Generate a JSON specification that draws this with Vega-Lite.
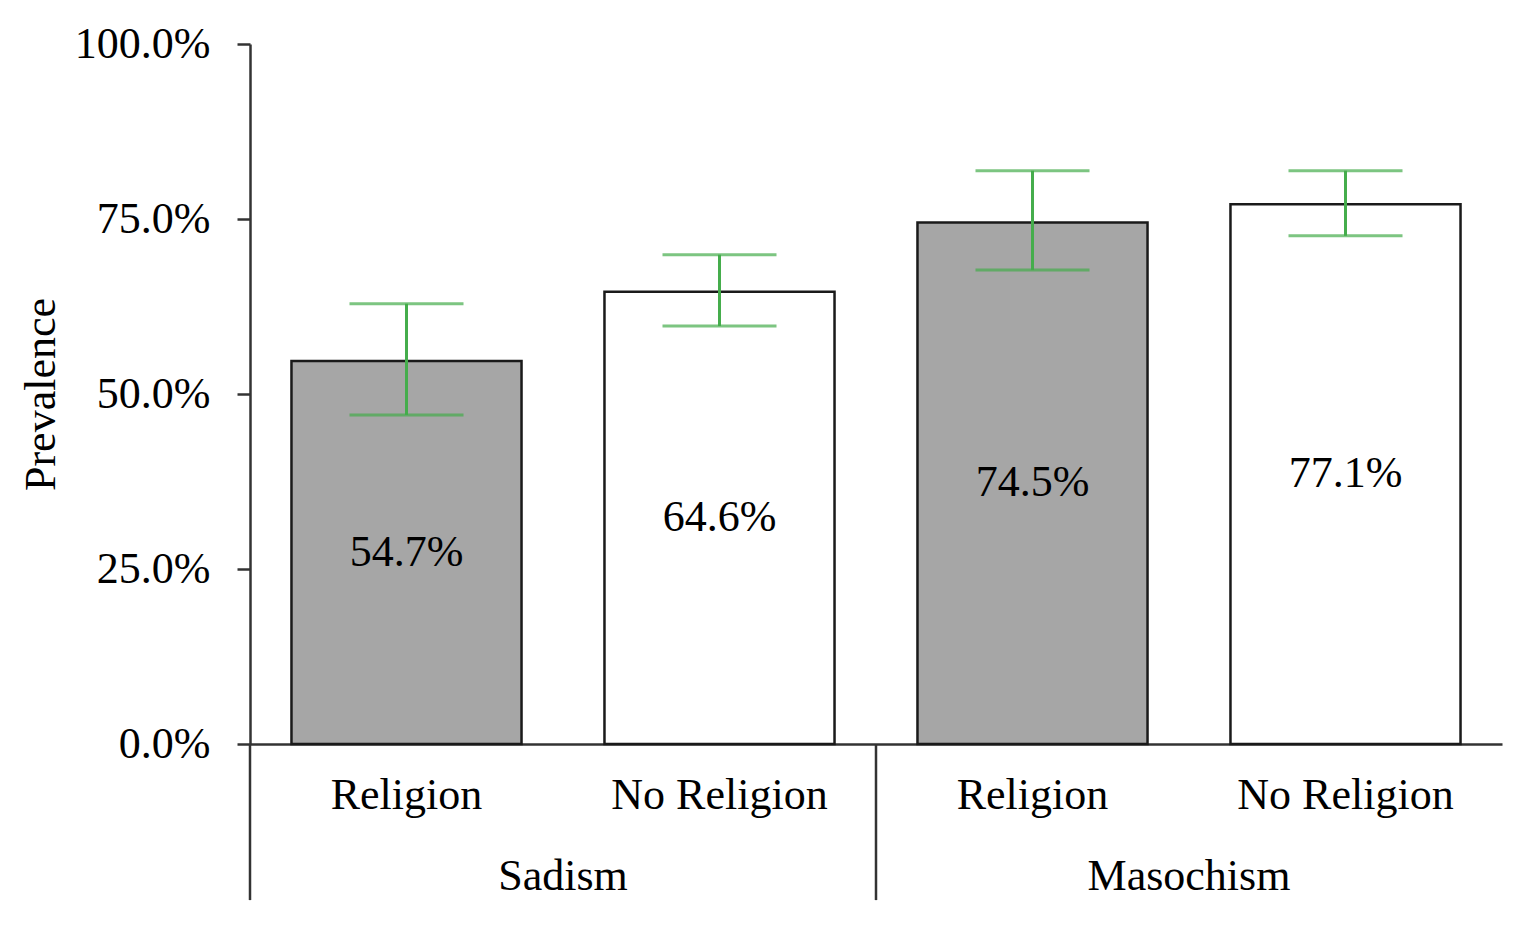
{
  "$schema": "https://vega.github.io/schema/vega-lite/v6.json",
  "width": 1252,
  "height": 700,
  "autosize": "none",
  "padding": {"left": 250, "top": 44, "right": 22, "bottom": 191},
  "background": "white",
  "data": {
    "values": [
      {"group": "Sadism", "religion": "Religion", "key": "Sadism|Religion", "value": 0.547, "lo": 0.470, "hi": 0.629},
      {"group": "Sadism", "religion": "No Religion", "key": "Sadism|No Religion", "value": 0.646, "lo": 0.597, "hi": 0.699},
      {"group": "Masochism", "religion": "Religion", "key": "Masochism|Religion", "value": 0.745, "lo": 0.677, "hi": 0.819},
      {"group": "Masochism", "religion": "No Religion", "key": "Masochism|No Religion", "value": 0.771, "lo": 0.726, "hi": 0.819}
    ]
  },
  "encoding": {
    "x": {
      "field": "key",
      "type": "nominal",
      "scale": {
        "domain": ["Sadism|Religion", "Sadism|No Religion", "Masochism|Religion", "Masochism|No Religion"],
        "paddingInner": 0,
        "paddingOuter": 0
      },
      "axis": {
        "title": null,
        "labelExpr": "split(datum.label, '|')[1]",
        "labelAngle": 0,
        "labelPadding": 29,
        "labelLimit": 0,
        "ticks": false,
        "domainColor": "#333333",
        "domainWidth": 2.5
      }
    }
  },
  "layer": [
    {
      "mark": {"type": "bar", "width": {"band": 0.735}, "stroke": "#1a1a1a", "strokeWidth": 2.5},
      "encoding": {
        "y": {
          "field": "value",
          "type": "quantitative",
          "scale": {"domain": [0, 1]},
          "axis": {
            "title": "Prevalence",
            "format": ".1%",
            "values": [0, 0.25, 0.5, 0.75, 1],
            "tickSize": 13,
            "tickWidth": 2.5,
            "tickColor": "#333333",
            "domainColor": "#333333",
            "domainWidth": 2.5,
            "labelPadding": 27,
            "titlePadding": 11,
            "grid": false
          }
        },
        "fill": {
          "field": "religion",
          "type": "nominal",
          "scale": {"domain": ["Religion", "No Religion"], "range": ["#A6A6A6", "#FFFFFF"]},
          "legend": null
        }
      }
    },
    {
      "mark": {"type": "rule", "color": "#45AD4C", "strokeWidth": 3},
      "encoding": {
        "y": {"field": "lo", "type": "quantitative"},
        "y2": {"field": "hi"}
      }
    },
    {
      "mark": {"type": "tick", "color": "#45AD4C", "size": 114, "thickness": 3, "orient": "horizontal"},
      "encoding": {"y": {"field": "lo", "type": "quantitative"}}
    },
    {
      "mark": {"type": "tick", "color": "#45AD4C", "size": 114, "thickness": 3, "orient": "horizontal"},
      "encoding": {"y": {"field": "hi", "type": "quantitative"}}
    },
    {
      "transform": [{"calculate": "datum.value / 2", "as": "mid"}],
      "mark": {"type": "text", "font": "Liberation Serif", "fontSize": 44, "baseline": "middle", "color": "black"},
      "encoding": {
        "y": {"field": "mid", "type": "quantitative"},
        "text": {"field": "value", "type": "quantitative", "format": ".1%"}
      }
    },
    {
      "data": {
        "values": [
          {"group": "Sadism", "first": "Sadism|Religion"},
          {"group": "Masochism", "first": "Masochism|Religion"}
        ]
      },
      "layer": [
        {
          "mark": {"type": "rule", "color": "#333333", "strokeWidth": 2.5},
          "encoding": {
            "x": {"field": "first", "type": "nominal", "bandPosition": 0},
            "y": {"datum": 0},
            "y2": {"datum": -0.223}
          }
        },
        {
          "mark": {"type": "text", "font": "Liberation Serif", "fontSize": 44, "baseline": "middle", "dy": 133, "color": "black"},
          "encoding": {
            "x": {"field": "first", "type": "nominal", "bandPosition": 1},
            "y": {"datum": 0},
            "text": {"field": "group"}
          }
        }
      ]
    }
  ],
  "config": {
    "view": {"stroke": null},
    "axis": {
      "labelFont": "Liberation Serif",
      "labelFontSize": 44,
      "labelColor": "black",
      "titleFont": "Liberation Serif",
      "titleFontSize": 44,
      "titleFontWeight": "normal",
      "titleColor": "black"
    },
    "text": {"font": "Liberation Serif"}
  }
}
